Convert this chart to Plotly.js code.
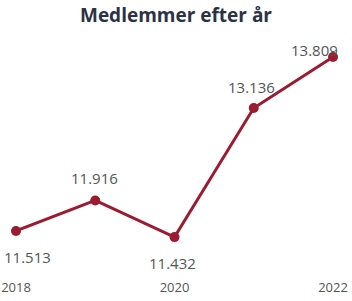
<!DOCTYPE html>
<html>
<head>
<meta charset="utf-8">
<script src="https://cdn.plot.ly/plotly-3.0.1.min.js"></script>
<style>html,body{margin:0;padding:0;background:#fff;}#chart{width:352px;height:301px;}</style>
</head>
<body>
<div id="chart"></div>
<script>
var years = [2018, 2019, 2020, 2021, 2022];
var members = [11513, 11916, 11432, 13136, 13809];
var memberLabels = ["11.513", "11.916", "11.432", "13.136", "13.809"];
var tickYears = [2018, 2020, 2022];
var tickLabels = ["2018", "2020", "2022"];

// label offsets (px) relative to each point
var labelShiftX = [11, -1, -2, -2, -19];
var labelShiftY = [-26, 22, -26, 21, 7];

var annotations = years.map(function (yr, i) {
  return {
    x: yr, y: members[i], xref: 'x', yref: 'y',
    text: memberLabels[i], showarrow: false,
    xshift: labelShiftX[i], yshift: labelShiftY[i],
    font: {family: 'Open Sans, sans-serif', size: 15, color: '#555555'}
  };
});

var trace = {
  x: years, y: members, type: 'scatter', mode: 'lines+markers',
  line: {color: '#9b1b30', width: 3},
  marker: {color: '#9b1b30', size: 10},
  cliponaxis: false, hoverinfo: 'none'
};

var layout = {
  width: 352, height: 301,
  margin: {l: 16, r: 19, t: 40, b: 31},
  paper_bgcolor: '#ffffff', plot_bgcolor: '#ffffff',
  title: {text: '<b>Medlemmer efter år</b>', x: 0.5, xanchor: 'center', y: 0.95, yanchor: 'middle',
    font: {family: 'Open Sans, sans-serif', size: 19, color: '#2b3246'}},
  xaxis: {range: [2018, 2022], tickvals: tickYears, ticktext: tickLabels,
    showgrid: false, zeroline: false, showline: false, ticks: '', automargin: false,
    ticklabeloverflow: 'allow', ticklabelstandoff: 8,
    tickfont: {family: 'Open Sans, sans-serif', size: 13, color: '#555555'}},
  yaxis: {range: [10998, 14033], visible: false, showgrid: false, zeroline: false, automargin: false},
  showlegend: false,
  annotations: annotations
};

Plotly.newPlot('chart', [trace], layout, {staticPlot: true, displayModeBar: false});
</script>
</body>
</html>
